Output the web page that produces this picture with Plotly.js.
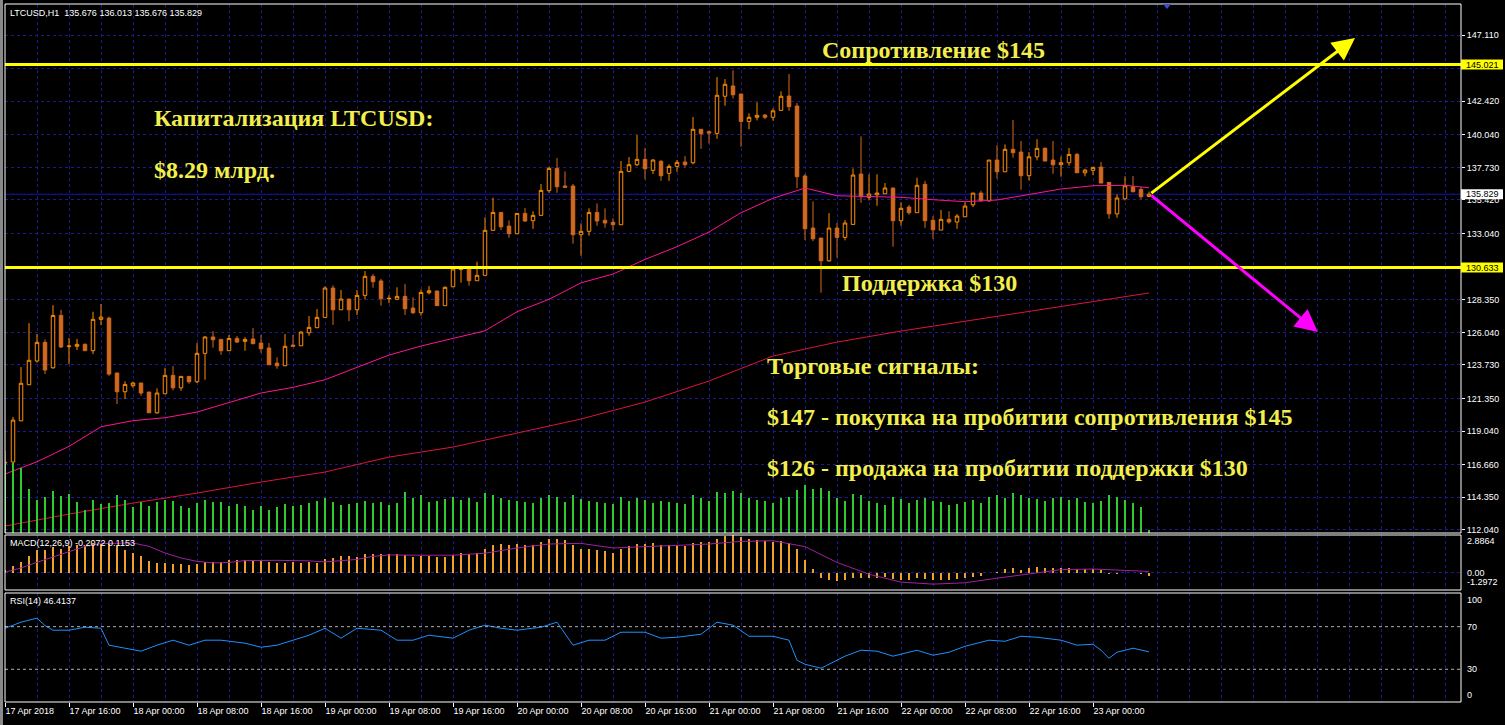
<!DOCTYPE html>
<html><head><meta charset="utf-8">
<script src="https://cdn.plot.ly/plotly-3.0.1.min.js"></script>
<style>html,body{margin:0;padding:0;background:#000;}#chart{width:1505px;height:725px;}</style>
</head><body><div id="chart"></div>
<script>
// ---------- DATA (LTCUSD H1, bar 0 = 17 Apr 2018 08:00) ----------
const openP=[116.85,116.85,119.77,122.33,124.01,125.33,123.53,127.24,125.03,125.05,
125.19,124.74,126.96,127.05,123.16,121.83,122.26,122.45,121.81,120.34,
121.69,122.99,122.11,122.92,122.54,124.55,125.71,125.54,124.74,125.61,
125.40,125.57,125.28,124.93,123.86,123.67,125.14,125.09,126.01,126.37,
127.10,129.18,127.64,128.40,127.64,128.66,130.01,129.68,128.42,128.38,
128.59,127.76,127.43,128.85,128.97,127.93,129.27,130.49,130.53,129.70,
130.08,133.27,134.54,133.57,133.03,134.47,133.95,134.33,136.08,137.66,
136.41,136.41,132.96,133.20,134.54,133.98,133.84,133.67,137.45,137.92,
138.30,137.52,138.16,137.31,137.80,138.11,138.06,140.43,140.26,140.14,
142.77,143.50,142.93,140.99,141.28,141.44,141.28,141.77,142.79,142.08,
137.12,133.43,132.72,131.11,133.43,132.77,133.69,137.26,135.61,135.79,
135.86,136.27,133.95,134.92,134.52,136.53,133.98,133.29,134.05,133.86,
134.23,135.08,135.91,135.35,138.25,137.42,139.01,138.82,137.14,138.48,
139.08,138.25,137.92,138.06,138.65,137.35,137.52,137.75,136.67,134.44,
135.51,136.36,136.17,135.676];
const highP=[117.63,120.04,123.58,126.70,125.92,125.54,127.97,127.64,125.64,125.57,
125.26,127.50,128.05,127.15,123.16,122.57,122.54,122.45,121.81,122.07,
123.53,123.65,122.92,122.92,125.28,125.78,126.13,125.54,125.85,125.78,
125.69,126.34,125.85,125.28,124.27,125.92,125.85,126.13,127.20,127.69,
129.30,129.37,129.04,128.40,129.04,130.38,130.17,129.82,128.68,129.23,
129.46,128.52,129.09,129.32,128.97,129.30,130.69,130.67,130.60,131.04,
134.19,135.58,134.54,133.98,134.47,134.85,134.62,136.55,137.78,138.39,
137.45,136.55,133.76,134.83,135.18,134.83,134.12,138.18,138.46,140.02,
139.10,138.32,138.25,137.95,138.25,138.53,141.30,140.43,140.34,144.13,
143.99,144.61,142.93,141.56,142.34,141.51,141.91,143.12,144.35,142.29,
137.26,135.32,132.72,134.49,133.79,134.00,137.66,139.93,137.24,137.24,
136.62,136.27,135.25,135.06,137.00,136.78,134.28,134.71,134.62,134.42,
135.25,135.91,136.08,138.25,139.31,139.36,141.09,139.60,138.82,139.72,
139.15,139.60,138.51,139.10,138.75,137.63,137.73,138.11,136.67,135.82,
137.10,137.12,136.34,136.013];
const lowP=[116.07,116.78,119.75,122.31,123.89,123.08,123.46,124.93,123.79,124.79,
124.74,124.50,126.56,122.96,120.96,121.31,122.11,121.55,120.34,120.27,
121.69,121.93,121.90,122.40,122.45,122.68,124.95,124.45,124.74,125.30,
124.74,125.23,124.59,123.74,123.46,123.65,125.05,125.09,125.80,126.37,
127.10,126.56,127.64,126.84,127.27,128.38,129.20,127.93,128.10,128.38,
127.27,127.34,127.22,128.73,127.93,127.93,129.27,129.56,129.34,129.70,
130.08,133.27,133.29,132.74,133.01,133.86,133.38,134.33,135.93,135.93,
136.32,132.32,131.47,132.89,133.59,133.45,133.24,133.67,137.38,137.83,
136.88,137.26,136.78,136.78,137.42,137.73,137.95,139.05,139.43,139.76,
142.10,142.62,139.19,140.43,141.06,141.14,141.04,141.77,141.74,136.27,
132.58,132.51,128.85,131.04,131.33,132.56,133.69,135.22,135.39,135.01,
135.86,132.11,133.59,134.37,134.52,133.43,132.65,133.29,133.74,133.38,
134.21,134.92,135.35,135.35,136.93,137.42,138.41,136.15,136.81,138.23,
138.18,137.28,137.07,137.85,137.35,137.10,137.17,136.62,134.09,134.16,
135.39,136.00,135.47,135.676];
const closeP=[116.78,119.82,122.43,124.06,125.33,123.37,127.24,125.00,125.07,125.19,
124.74,126.96,127.12,123.08,121.83,122.35,122.45,121.74,120.34,121.74,
122.99,122.11,122.92,122.54,124.55,125.71,125.52,124.74,125.61,125.35,
125.54,125.23,124.88,123.74,123.67,125.05,125.05,126.06,126.39,127.10,
129.18,127.64,128.40,127.64,128.66,130.01,129.63,128.42,128.45,128.59,
127.71,127.43,128.87,128.99,127.93,129.23,130.53,130.53,129.70,130.08,
133.27,134.54,133.52,133.03,134.47,133.93,134.33,136.10,137.66,136.36,
136.32,132.96,133.20,134.54,133.93,133.79,133.67,137.45,137.92,138.30,
137.63,138.25,137.14,137.80,138.09,137.92,140.43,140.11,140.16,142.84,
143.62,142.88,140.99,141.28,141.42,141.28,141.74,142.77,142.03,137.07,
133.38,132.67,131.11,133.43,132.77,133.79,137.19,135.65,135.84,135.91,
136.27,133.95,134.83,134.52,136.46,133.95,133.31,134.05,133.86,134.28,
134.99,135.91,135.35,138.25,137.42,139.01,138.77,137.14,138.48,139.08,
138.18,137.92,138.06,138.65,137.35,137.54,137.73,136.62,134.44,135.56,
136.43,136.00,135.65,135.829];
const volume=[1380,1400,1300,880,660,720,846,740,780,620,460,660,580,600,760,660,520,620,540,620,
660,640,540,500,600,660,620,620,540,580,540,460,540,460,520,580,540,560,600,640,
700,620,560,580,600,640,600,620,560,600,820,700,760,620,640,680,720,660,700,620,
800,760,700,660,640,620,600,700,760,720,620,760,680,640,620,600,580,720,640,700,
660,600,640,620,600,580,760,700,640,820,800,840,800,700,660,640,600,700,720,860,
960,880,900,840,700,640,780,760,640,600,560,720,680,600,660,700,640,620,560,580,
620,660,600,720,760,700,800,760,700,680,640,700,720,660,700,620,600,640,760,720,
660,600,520,60];
// Moving averages (read at sampled bars)
const maFastX=[0,4,8,12,16,20,24,28,32,36,40,44,48,52,56,60,64,68,72,76,80,84,88,92,96,100,104,108,112,116,120,124,128,132,136,140,143];
const maFastV=[116.00,116.87,117.96,119.35,119.78,119.99,120.39,121.08,121.74,122.14,122.68,123.56,124.43,125.07,125.61,126.15,127.50,128.38,129.55,130.17,131.21,132.11,133.15,134.52,135.54,136.27,135.72,135.65,135.61,135.44,135.30,135.42,135.82,136.20,136.43,136.46,136.29];
const maSlowX=[0,8,16,24,32,40,48,56,64,72,80,88,96,104,112,120,128,136,143];
const maSlowV=[112.31,113.16,113.94,114.65,115.43,116.14,117.20,117.91,118.90,119.90,121.10,122.59,124.36,125.35,126.13,126.84,127.55,128.26,128.83];
// MACD(12,26,9)
const macdMain=[0.25,0.50,0.86,1.26,1.72,1.77,1.98,1.85,2.08,2.10,2.08,2.28,2.23,2.23,2.02,1.72,1.52,1.26,0.94,0.76,
0.76,0.68,0.68,0.58,0.65,0.81,0.86,0.86,0.96,0.96,1.01,1.01,0.96,0.86,0.73,0.76,0.86,0.73,0.81,0.76,
1.06,1.16,1.26,1.26,1.22,1.41,1.47,1.41,1.41,1.45,1.35,1.25,1.30,1.30,1.20,1.25,1.40,1.50,1.45,1.50,
1.85,2.15,2.20,2.10,2.20,2.15,2.15,2.35,2.55,2.55,2.50,2.15,1.85,1.80,1.75,1.65,1.55,1.85,2.05,2.20,
2.20,2.25,2.15,2.10,2.10,2.05,2.30,2.35,2.35,2.60,2.80,2.85,2.70,2.60,2.50,2.40,2.35,2.40,2.30,1.80,
1.00,0.30,-0.40,-0.50,-0.60,-0.55,-0.40,-0.35,-0.35,-0.35,-0.30,-0.45,-0.50,-0.50,-0.40,-0.45,-0.50,-0.50,-0.50,-0.45,
-0.40,-0.30,-0.25,0.00,0.10,0.30,0.35,0.25,0.35,0.45,0.40,0.35,0.35,0.40,0.30,0.30,0.30,0.20,-0.10,-0.10,
0.00,0.00,-0.10,-0.2072];
const macdSigX=[0,2,4,6,8,10,12,14,16,18,20,22,24,26,28,30,32,34,36,38,40,42,44,46,48,52,56,60,64,68,72,76,80,84,88,92,96,100,104,108,112,116,120,124,128,132,136,140,143];
const macdSigV=[0.05,0.38,0.81,1.22,1.64,2.02,2.23,2.28,2.28,2.02,1.52,1.14,0.88,0.76,0.80,0.94,0.96,0.96,0.94,0.92,0.84,0.92,1.03,1.26,1.37,1.35,1.35,1.5,1.9,2.2,2.25,1.9,2.0,2.1,2.2,2.4,2.45,2.0,0.8,-0.1,-0.7,-0.85,-0.75,-0.4,-0.05,0.25,0.3,0.2,0.1153];
// RSI(14)
const rsiX=[0,2,4,5,6,8,10,12,13,15,17,19,21,23,25,27,30,32,34,36,38,40,42,44,47,49,51,53,56,58,60,62,64,67,69,71,73,75,77,80,82,84,87,89,91,93,96,98,99,100,102,104,105,107,109,111,114,116,118,120,123,125,127,129,132,134,136,137,138,139,141,143];
const rsiV=[68.5,74.2,78,71,66.7,66.7,69.5,68.5,52.6,49.8,47,52.6,57.3,52.6,57.3,57.3,54.5,50.7,52.6,57.3,62,68.5,59.2,68.5,66.7,57.3,57.3,62,59.2,66.7,71.4,68.5,66.7,69.5,74.2,52.6,57.3,57.3,64.8,64.8,59.2,60.1,62.9,74.2,71.4,61,61,57.3,38.5,34.7,31,38.5,42.3,47.9,47,42.3,47.9,43.2,46,51.6,57.3,56.3,61,60.1,57.3,52.6,53.5,47.9,40.4,46,49.8,46.41];
// axis labels
const timeTickBars=[0,8,16,24,32,40,48,56,64,72,80,88,96,104,112,120,128,136];
const timeTickLabels=['17 Apr 2018','17 Apr 16:00','18 Apr 00:00','18 Apr 08:00','18 Apr 16:00','19 Apr 00:00','19 Apr 08:00','19 Apr 16:00','20 Apr 00:00','20 Apr 08:00','20 Apr 16:00','21 Apr 00:00','21 Apr 08:00','21 Apr 16:00','22 Apr 00:00','22 Apr 08:00','22 Apr 16:00','23 Apr 00:00'];
const priceTicks=[147.11,144.73,142.42,140.04,137.73,135.42,133.04,130.73,128.35,126.04,123.73,121.35,119.04,116.66,114.35,112.04];
const hiddenTicks=[144.73,130.73];   // covered by the level tags
const resistance=145.021, support=130.633, lastPrice=135.829;
const buyTarget={bar:168.75,price:146.90}, sellTarget={bar:164.1,price:126.06};
const header='LTCUSD,H1\u00a0\u00a0135.676 136.013 135.676 135.829';
const macdLabel='MACD(12,26,9) -0.2072 0.1153';
const rsiLabel='RSI(14) 46.4137';

// ---------- RENDER ----------
const bars=openP.map((_,i)=>i);
const PX=p=>(p-5)/1456, PY=p=>(702-p)/698;
const GRID='#1a1a8c', INC='#FF8C00', DEC='#D2691E', TXT='#F2EE4E';
const AX={family:'Liberation Sans, Arial, sans-serif',size:9,color:'#ffffff'};

const traces=[
 {type:'bar',x:bars,y:volume,xaxis:'x',yaxis:'y4',width:0.14,marker:{color:'#2ECC2E',line:{width:0}},hoverinfo:'skip'},
 {type:'scatter',mode:'lines',x:maSlowX,y:maSlowV,xaxis:'x',yaxis:'y',line:{color:'#DC143C',width:1},hoverinfo:'skip'},
 {type:'scatter',mode:'lines',x:maFastX,y:maFastV,xaxis:'x',yaxis:'y',line:{color:'#FF1493',width:1},hoverinfo:'skip'},
 {type:'candlestick',x:bars,open:openP,high:highP,low:lowP,close:closeP,xaxis:'x',yaxis:'y',whiskerwidth:0,
  increasing:{line:{color:INC,width:1},fillcolor:'#000000'},decreasing:{line:{color:DEC,width:1},fillcolor:DEC},hoverinfo:'skip'},
 {type:'bar',x:bars,y:macdMain,xaxis:'x',yaxis:'y2',width:0.14,marker:{color:'#F0A030',line:{width:0}},hoverinfo:'skip'},
 {type:'scatter',mode:'lines',x:macdSigX,y:macdSigV,xaxis:'x',yaxis:'y2',line:{color:'#A020A0',width:1},hoverinfo:'skip'},
 {type:'scatter',mode:'lines',x:rsiX,y:rsiV,xaxis:'x',yaxis:'y3',line:{color:'#1E90FF',width:1},hoverinfo:'skip'}
];

const txt=(s,px,py,size)=>({xref:'paper',yref:'paper',x:PX(px-3),y:PY(py),xanchor:'left',yanchor:'middle',showarrow:false,
  text:'<b>'+s+'</b>',font:{family:'Liberation Serif, Times New Roman, serif',size:size,color:TXT}});
const small=(s,px,py)=>({xref:'paper',yref:'paper',x:PX(px),y:PY(py),xanchor:'left',yanchor:'middle',showarrow:false,text:s,font:AX});

const annotations=[
 small(header,8,13), small(macdLabel,8,543), small(rsiLabel,8,601),
 small('2.8864',1465,541), small('0.00',1465,573), small('-1.2972',1465,582),
 small('100',1465,600), small('70',1465,627), small('30',1465,669), small('0',1465,695),
 txt('Сопротивление $145',823,50,24),
 txt('Капитализация LTCUSD:',155,118,24),
 txt('$8.29 млрд.',155,170,24),
 txt('Поддержка $130',843,283,24),
 txt('Торговые сигналы:',768,366,24),
 txt('$147 - покупка на пробитии сопротивления $145',768,417,24),
 txt('$126 - продажа на пробитии поддержки $130',768,468,24),
 {xref:'x',yref:'y',axref:'x',ayref:'y',x:buyTarget.bar,y:buyTarget.price,ax:143.1,ay:lastPrice,text:'',showarrow:true,arrowhead:2,arrowsize:1.5,arrowwidth:3,arrowcolor:'#FFFF00'},
 {xref:'x',yref:'y',axref:'x',ayref:'y',x:sellTarget.bar,y:sellTarget.price,ax:143.1,ay:lastPrice,text:'',showarrow:true,arrowhead:2,arrowsize:1.5,arrowwidth:3,arrowcolor:'#FF00FF'},
 {xref:'paper',yref:'y',x:1,y:resistance,xanchor:'left',xshift:3,yanchor:'middle',showarrow:false,text:resistance.toFixed(3),font:{family:AX.family,size:9,color:'#000'}},
 {xref:'paper',yref:'y',x:1,y:support,xanchor:'left',xshift:3,yanchor:'middle',showarrow:false,text:support.toFixed(3),font:{family:AX.family,size:9,color:'#000'}},
 {xref:'paper',yref:'y',x:1,y:lastPrice,xanchor:'left',xshift:3,yanchor:'middle',showarrow:false,text:lastPrice.toFixed(3),font:{family:AX.family,size:9,color:'#000'}}
];

const frame=(y0,y1)=>({type:'rect',xref:'paper',yref:'paper',x0:0,x1:1,y0:PY(y0),y1:PY(y1),line:{color:'#ffffff',width:1},fillcolor:'rgba(0,0,0,0)',layer:'above'});
const tag=(v,col)=>({type:'rect',xref:'paper',yref:'y',xsizemode:'pixel',xanchor:1,x0:0,x1:42,ysizemode:'pixel',yanchor:v,y0:-5,y1:5,fillcolor:col,line:{width:0},layer:'above'});
const shapes=[
 {type:'line',xref:'paper',yref:'y',x0:0,x1:1,y0:lastPrice,y1:lastPrice,line:{color:'#1414B0',width:1},layer:'below'},
 {type:'line',xref:'paper',yref:'y',x0:0,x1:1,y0:resistance,y1:resistance,line:{color:'#FFFF00',width:3},layer:'above'},
 {type:'line',xref:'paper',yref:'y',x0:0,x1:1,y0:support,y1:support,line:{color:'#FFFF00',width:3},layer:'above'},
 {type:'line',xref:'paper',yref:'y3',x0:0,x1:1,y0:70,y1:70,line:{color:'#B0B0B0',width:1,dash:'3px,3px'}},
 {type:'line',xref:'paper',yref:'y3',x0:0,x1:1,y0:30,y1:30,line:{color:'#B0B0B0',width:1,dash:'3px,3px'}},
 frame(533,4), frame(590,535), frame(702,593),
 {type:'rect',xref:'paper',yref:'paper',x0:PX(0),x1:PX(3),y0:PY(725),y1:PY(0),fillcolor:'#8a8a8a',line:{width:0}},
 {type:'path',xref:'paper',yref:'paper',path:`M ${PX(1163)} ${PY(4)} L ${PX(1171)} ${PY(4)} L ${PX(1167)} ${PY(9)} Z`,fillcolor:'#3a4fd0',line:{width:0}},
 tag(resistance,'#FFFF00'), tag(support,'#FFFF00'), tag(lastPrice,'#FFFFFF')
];

const yBase={side:'right',anchor:'x',zeroline:false,showline:false,fixedrange:true};
const layout={
 width:1505,height:725,margin:{l:5,r:44,t:4,b:23},
 paper_bgcolor:'#000',plot_bgcolor:'#000',showlegend:false,boxgap:0.375,bargap:0,
 xaxis:{range:[0,182],anchor:'y3',tickmode:'array',tickvals:timeTickBars,ticktext:timeTickLabels,
  ticklabelposition:'outside right',ticks:'outside',ticklen:4,tickcolor:'#fff',tickfont:AX,
  showgrid:true,gridcolor:GRID,griddash:'3px,3px',gridwidth:1,
  minor:{tickmode:'linear',tick0:0,dtick:4,showgrid:true,gridcolor:GRID,griddash:'3px,3px',ticks:''},
  zeroline:false,showline:false,rangeslider:{visible:false},fixedrange:true},
 yaxis:Object.assign({},yBase,{domain:[PY(533),1],range:[111.82,149.31],tickmode:'array',tickvals:priceTicks,
  ticktext:priceTicks.map(v=>hiddenTicks.includes(v)?'':v.toFixed(3)),ticks:'outside',ticklen:3,tickcolor:'#fff',tickfont:AX,
  showgrid:true,gridcolor:GRID,griddash:'3px,3px'}),
 yaxis2:Object.assign({},yBase,{domain:[PY(590),PY(535)],range:[-1.2972,2.8864],tickmode:'array',tickvals:[0],
  showticklabels:false,ticks:'',showgrid:true,gridcolor:GRID,griddash:'3px,3px'}),
 yaxis3:Object.assign({},yBase,{domain:[0,PY(593)],range:[-0.7,101.6],showticklabels:false,ticks:'',showgrid:false}),
 yaxis4:{overlaying:'y',anchor:'x',range:[0,10580],visible:false,fixedrange:true},
 annotations:annotations,shapes:shapes
};
Plotly.newPlot('chart',traces,layout,{displayModeBar:false,staticPlot:true});
</script></body></html>
